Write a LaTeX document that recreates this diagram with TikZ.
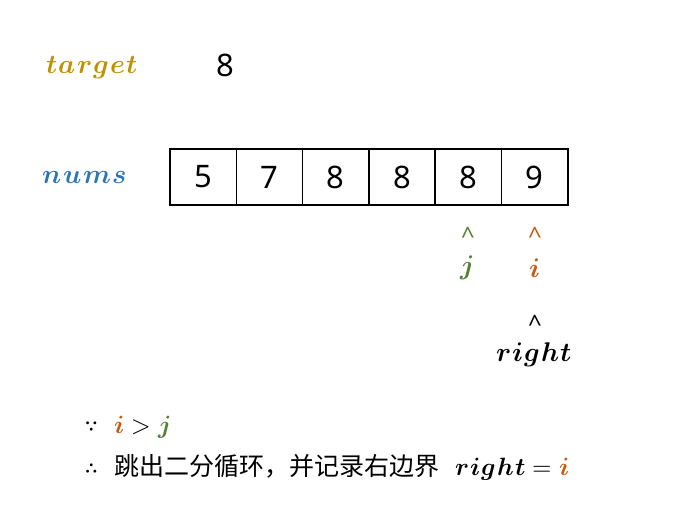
\documentclass[tikz,border=0pt]{standalone}
\usepackage{amsmath}
\usepackage{fontspec}
\usepackage{unicode-math}
\setmathfont{Latin Modern Math}
\newfontfamily\cjk{Noto Sans CJK SC}
\newfontfamily\digitfont{Noto Sans}
\newcommand{\lsp}{\mkern1mu}
\definecolor{cgold}{RGB}{191,144,0}
\definecolor{cblue}{RGB}{46,117,182}
\definecolor{cgreen}{RGB}{84,130,53}
\definecolor{corange}{RGB}{197,90,17}
\begin{document}
\begin{tikzpicture}[x=1pt,y=-1pt,
  cell/.style={draw,line width=1.6pt,outer sep=0pt,minimum width=66.3pt,minimum height=56pt,inner sep=0pt,anchor=north west,font=\digitfont\fontsize{31}{34}\selectfont},
  lbl/.style={inner sep=0pt,font=\fontsize{27}{30}\selectfont},
  ptr/.style={inner sep=0pt,font=\digitfont\fontsize{24}{26}\selectfont},
  txt/.style={inner sep=0pt,anchor=west,font=\fontsize{25}{28}\selectfont}]
\useasboundingbox (0,0) rectangle (696,521);
\node[lbl,text=cgold] (tl) at (92,68) {$\symbfit{t\lsp a\lsp r\lsp g\lsp e\lsp t}$};
\node[inner sep=0pt,font=\digitfont\fontsize{31}{34}\selectfont] (tv) at (225,65) {8};
\node[lbl,text=cblue] (nl) at (85,178) {$\symbfit{n\lsp u\lsp m\lsp s}$};
\node[cell] (c0) at (170,149) {5};
\node[cell] (c1) at (c0.north east) {7};
\node[cell] (c2) at (c1.north east) {8};
\node[cell] (c3) at (c2.north east) {8};
\node[cell] (c4) at (c3.north east) {8};
\node[cell] (c5) at (c4.north east) {9};
\node[ptr,text=cgreen] (jc) at (468,236) {\textasciicircum};
\node[lbl,text=cgreen] (jl) at (467,268) {$\symbfit{j}$};
\node[ptr,text=corange] (ic) at (535,236) {\textasciicircum};
\node[lbl,text=corange] (il) at (535,268) {$\symbfit{i}$};
\node[ptr] (rc) at (535,324) {\textasciicircum};
\node[lbl] (rl) at (534,355) {$\symbfit{r\lsp i\lsp g\lsp h\lsp t}$};
\node[txt] (because) at (84,427) {{\fontsize{28}{30}\selectfont$\because$}\hspace{16pt}$\textcolor{corange}{\symbfit{i}}>\textcolor{cgreen}{\symbfit{j}}$};
\node[txt] (therefore) at (84,467) {{\fontsize{28}{30}\selectfont$\therefore$}\hspace{16pt}{\cjk 跳出二分循环，并记录右边界}\hspace{16pt}$\symbfit{r\lsp i\lsp g\lsp h\lsp t}=\textcolor{corange}{\symbfit{i}}$};
\end{tikzpicture}
\end{document}
